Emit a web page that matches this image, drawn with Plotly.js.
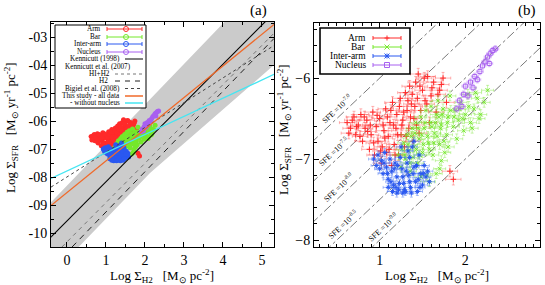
<!DOCTYPE html>
<html><head><meta charset="utf-8">
<script src="https://cdn.plot.ly/plotly-3.0.1.min.js"></script>
<style>html,body{margin:0;padding:0;background:#fff}#chart{width:545px;height:285px}</style>
</head><body><div id="chart"></div>
<script>
// ---------------- data ----------------
const categories = ['Arm', 'Bar', 'Inter-arm', 'Nucleus'];

const armX = [0.62,0.66,0.70,0.72,0.75,0.78,0.80,0.83,0.85,0.88,0.90,0.92,0.94,0.96,0.98,1.00,1.02,1.03,1.05,1.07,1.08,1.10,1.12,1.14,1.15,1.17,1.19,1.20,1.22,1.24,1.25,1.27,1.29,1.30,1.32,1.34,1.35,1.37,1.39,1.40,1.42,1.44,1.46,1.48,1.50,1.52,1.55,1.58,1.60,1.63,1.66,1.70,1.74,1.78,1.82,1.86,1.45,1.56,
  0.64,0.68,0.73,0.77,0.82,0.86,0.89,0.93,0.97,1.01,1.04,1.06,1.09,1.11,1.13,1.16,1.18,1.21,1.23,1.26,1.28,1.31,1.33,1.36,1.38,1.41,1.43,1.47,1.53,1.61,1.68,1.72];
const armY = [-6.55,-6.62,-6.48,-6.70,-6.58,-6.45,-6.78,-6.62,-6.52,-6.88,-6.70,-6.42,-6.95,-6.60,-6.78,-6.50,-7.05,-6.85,-6.65,-6.38,-6.92,-6.72,-6.55,-7.08,-6.30,-6.82,-6.62,-6.45,-6.95,-6.25,-6.70,-6.52,-6.85,-6.18,-6.40,-6.62,-6.10,-6.32,-6.78,-6.50,-6.05,-6.25,-6.68,-6.40,-6.15,-6.00,-6.32,-6.55,-6.22,-6.05,-6.42,-6.15,-6.00,-6.30,-7.15,-7.25,-5.95,-5.98,
  -6.68,-6.52,-6.60,-6.72,-6.48,-6.66,-6.58,-6.80,-6.46,-6.90,-6.58,-6.74,-6.48,-6.88,-6.40,-6.58,-6.95,-6.70,-6.35,-6.58,-6.42,-6.72,-6.28,-6.48,-6.20,-6.35,-6.58,-6.10,-6.28,-6.12,-6.20,-6.08];

const barX = [1.22,1.25,1.28,1.30,1.32,1.34,1.36,1.38,1.40,1.42,1.44,1.46,1.48,1.50,1.52,1.54,1.55,1.57,1.59,1.60,1.62,1.64,1.66,1.68,1.70,1.72,1.74,1.70,1.78,1.80,1.82,1.76,1.86,1.88,1.90,1.92,1.95,1.98,2.00,2.03,2.06,2.10,2.14,2.18,2.22,2.26,1.58,1.66,1.48,1.72,1.80,2.08,2.16,
  1.26,1.29,1.33,1.35,1.37,1.39,1.41,1.43,1.45,1.47,1.49,1.51,1.53,1.56,1.58,1.61,1.63,1.65,1.67,1.69,1.71,1.73,1.75,1.79,1.83,1.87,1.93,1.97,2.04,2.12];
const barY = [-6.95,-7.10,-6.80,-7.00,-6.70,-6.90,-7.15,-6.62,-6.85,-6.55,-7.05,-6.75,-6.48,-6.92,-6.62,-6.40,-7.20,-6.80,-6.55,-6.35,-6.95,-6.68,-6.45,-6.28,-6.82,-6.58,-6.38,-7.12,-6.70,-6.48,-6.22,-6.92,-6.60,-6.40,-6.75,-6.52,-6.30,-6.65,-6.45,-6.20,-6.55,-6.38,-6.25,-6.45,-6.30,-6.15,-7.28,-7.18,-7.22,-7.02,-6.85,-6.62,-6.50,
  -6.88,-6.95,-6.82,-7.05,-6.72,-6.98,-6.68,-6.88,-6.62,-6.95,-6.70,-6.82,-6.55,-6.72,-6.88,-6.60,-6.80,-6.55,-6.72,-6.48,-6.62,-6.45,-6.78,-6.55,-6.40,-6.48,-6.38,-6.50,-6.35,-6.18];

const interX = [0.93,0.96,0.98,1.00,1.02,1.04,1.06,1.08,1.10,1.12,1.14,1.16,1.18,1.20,1.22,1.24,1.26,1.28,1.30,1.32,1.34,1.36,1.38,1.40,1.42,1.44,1.46,1.48,1.50,1.52,1.54,1.56,1.58,1.40,1.33,1.25,1.20,1.10,
  1.05,1.09,1.13,1.17,1.19,1.21,1.23,1.27,1.29,1.31,1.35,1.37,1.39,1.43,1.45,1.47,1.51,1.15,1.27,1.35];
const interY = [-7.00,-7.08,-6.95,-7.12,-7.02,-7.18,-6.92,-7.10,-7.25,-7.00,-7.15,-7.32,-7.05,-7.22,-7.38,-6.98,-7.12,-7.30,-7.40,-7.05,-7.20,-7.35,-6.85,-7.10,-7.28,-7.40,-6.95,-7.18,-7.32,-7.08,-7.22,-7.15,-7.28,-6.78,-6.90,-6.85,-7.42,-7.35,
  -7.05,-7.18,-7.28,-7.12,-7.35,-7.08,-7.30,-7.22,-7.38,-7.15,-7.28,-7.42,-7.18,-7.08,-7.25,-7.35,-7.18,-7.40,-7.42,-6.98];

const nucX = [1.90,1.93,1.96,1.98,2.00,2.03,2.06,2.09,2.11,2.14,2.17,2.20,2.23,2.26,2.29,2.32,2.35,2.28];
const nucY = [-6.38,-6.28,-6.35,-6.20,-6.10,-6.22,-6.05,-6.12,-5.98,-6.02,-5.92,-5.85,-5.80,-5.74,-5.70,-5.66,-5.64,-5.82];

// typical uncertainties (dex) per category, [x, y]
const armErr = [0.09, 0.07];
const barErr = [0.07, 0.06];
const interErr = [0.06, 0.05];
const nucErr = [0.04, 0.04];

// relations in panel (a): endpoints [x], [y]
const k98X = [-0.45, 5.2],   k98Y = [-10.2, -2.29];
const k07hiX = [-0.13, 5.31], k07hiY = [-10.5, -2.86];
const k07h2X = [0.13, 5.31],  k07h2Y = [-10.5, -3.05];
const bigX = [-0.41, 5.31],   bigY = [-8.36, -3.3];
const allX = [-0.41, 5.31],   allY = [-9.02, -2.55];
const noNucX = [-0.41, 5.31], noNucY = [-8.05, -4.33];
const bandX = [-0.41, 1.6, 4.03, 4.7, 5.31, 5.31, 2.13, 0.3, -0.41];
const bandY = [-8.9, -6.0, -2.46, -1.5, -1.5, -4.0, -7.86, -10.5, -10.5];

// SFE lines in panel (b), log SFE [yr^-1]
const sfeLevels = [-7.0, -7.5, -8.0, -8.5, -9.0];
const sfeLabels = ['-7.0', '-7.5', '-8.0', '-8.5', '-9.0'];
const sfeLabelX = [0.49, 0.465, 0.52, 0.57, 1.035];
const sfeXSpan = [0.2, 2.9];

// tick labels
const aYTicks = [-3,-4,-5,-6,-7,-8,-9,-10];
const aYText = ['-03','-04','-05','-06','-07','-08','-09','-10'];
const aXTicks = [0,1,2,3,4,5];
const bXTicks = [1,2];
const bYTicks = [-6,-7,-8];

// ---------------- styles ----------------
const SERIF = 'Liberation Serif, Times New Roman, serif';
const RED = '#ff2a2a', GREEN = '#74e82a', BLUE = '#2a58f0', PURPLE = '#a860f0';
const ORANGE = '#f06a2a', CYAN = '#46e6f2';
const W = 545, H = 285;
const px = x => x / W, py = y => 1 - y / H;

const sets = [
  {name: categories[0], x: armX, y: armY, err: armErr, color: RED, bsym: 'cross-thin-open', rgba: 'rgba(255,70,70,0.5)'},
  {name: categories[1], x: barX, y: barY, err: barErr, color: GREEN, bsym: 'x-thin-open', rgba: 'rgba(120,230,50,0.5)'},
  {name: categories[2], x: interX, y: interY, err: interErr, color: BLUE, bsym: 'asterisk-open', rgba: 'rgba(50,100,240,0.5)'},
  {name: categories[3], x: nucX, y: nucY, err: nucErr, color: PURPLE, bsym: 'square-open', rgba: 'rgba(170,100,240,0.5)'}
];

const traces = [];
traces.push({x: bandX, y: bandY, xaxis: 'x', yaxis: 'y', mode: 'lines', fill: 'toself',
  fillcolor: '#cbcbcb', line: {width: 0, color: '#cbcbcb'}, hoverinfo: 'skip', showlegend: false});
sets.forEach(s => traces.push({
  x: s.x, y: s.y, xaxis: 'x', yaxis: 'y', mode: 'markers', showlegend: false,
  marker: {symbol: 'circle', size: 5, color: s.color, line: {width: 0}},
  error_x: {type: 'constant', value: s.err[0] * 0.7, color: s.color, thickness: 0.6, width: 0},
  error_y: {type: 'constant', value: s.err[1] * 0.7, color: s.color, thickness: 0.6, width: 0}
}));
const rel = [
  [k98X, k98Y, '#000', 1.1, 'solid'],
  [k07hiX, k07hiY, '#777', 1, '4px,4px'],
  [k07h2X, k07h2Y, '#222', 1, '6px,5px'],
  [bigX, bigY, '#444', 1, 'dot'],
  [allX, allY, ORANGE, 1.3, 'solid'],
  [noNucX, noNucY, CYAN, 1.3, 'solid']
];
rel.forEach(r => traces.push({x: r[0], y: r[1], xaxis: 'x', yaxis: 'y', mode: 'lines',
  line: {color: r[2], width: r[3], dash: r[4]}, showlegend: false, hoverinfo: 'skip'}));

sfeLevels.forEach(s => traces.push({x: sfeXSpan, y: sfeXSpan.map(v => v + s), xaxis: 'x2', yaxis: 'y2',
  mode: 'lines', line: {color: '#555', width: 0.8, dash: 'dashdot'}, showlegend: false, hoverinfo: 'skip'}));
sets.forEach(s => traces.push({
  x: s.x, y: s.y, xaxis: 'x2', yaxis: 'y2', mode: 'markers', showlegend: false,
  marker: {symbol: s.bsym, size: 4, color: s.color, line: {width: 1, color: s.color}},
  error_x: {type: 'constant', value: s.err[0], color: s.rgba, thickness: 0.8, width: 1.5},
  error_y: {type: 'constant', value: s.err[1], color: s.rgba, thickness: 0.8, width: 1.5}
}));

// ---------------- annotations & shapes ----------------
const ann = [];
const shapes = [];
function txt(text, x, y, size, xa, extra) {
  ann.push(Object.assign({text: text, x: px(x), y: py(y), xref: 'paper', yref: 'paper', showarrow: false,
    xanchor: xa || 'center', yanchor: 'middle', font: {family: SERIF, size: size, color: '#000'}}, extra || {}));
}
function seg(x0, y0, x1, y1, color, width, dash) {
  shapes.push({type: 'line', xref: 'paper', yref: 'paper', x0: px(x0), y0: py(y0), x1: px(x1), y1: py(y1),
    line: {color: color, width: width, dash: dash || 'solid'}});
}
function sym(kind, cx, cy, r, color) {
  if (kind === 'circle') {
    shapes.push({type: 'circle', xref: 'paper', yref: 'paper', x0: px(cx - r), x1: px(cx + r), y0: py(cy + r), y1: py(cy - r),
      line: {color: color, width: 1}, fillcolor: 'rgba(0,0,0,0)'});
  } else if (kind === 'square') {
    shapes.push({type: 'rect', xref: 'paper', yref: 'paper', x0: px(cx - r), x1: px(cx + r), y0: py(cy + r), y1: py(cy - r),
      line: {color: color, width: 1}});
  } else {
    if (kind === 'plus' || kind === 'ast') { seg(cx - r, cy, cx + r, cy, color, 1); seg(cx, cy - r, cx, cy + r, color, 1); }
    if (kind === 'x' || kind === 'ast') { seg(cx - r, cy - r, cx + r, cy + r, color, 1); seg(cx - r, cy + r, cx + r, cy - r, color, 1); }
  }
}

const NB = '\u00a0';
const ytitle = 'Log Σ<sub>SFR</sub>' + NB + NB + NB + '[M<sub>⊙</sub> yr<sup>-1</sup> pc<sup>-2</sup>]';
const xtitle = 'Log Σ<sub>H2</sub>' + NB + NB + NB + '[M<sub>⊙</sub> pc<sup>-2</sup>]';
txt(ytitle, 11, 128, 13, 'center', {textangle: -90});
txt(xtitle, 162, 276, 13);
txt(ytitle, 284, 130, 13, 'center', {textangle: -90});
txt(xtitle, 437, 276, 13);
txt('(a)', 258, 10, 15);
txt('(b)', 527, 10, 15);

// legend (a)
shapes.push({type: 'rect', xref: 'paper', yref: 'paper', x0: px(55), x1: px(146), y0: py(25), y1: py(108),
  line: {color: '#000', width: 1}, fillcolor: '#fff'});
const legA = [
  ['Arm', 103, 29, 'pt', RED],
  ['Bar', 103, 37, 'pt', GREEN],
  ['Inter-arm', 103, 44, 'pt', BLUE],
  ['Nucleus', 103, 52, 'pt', PURPLE],
  ['Kennicutt (1998)', 122, 59, 'solid', '#000'],
  ['Kennicutt et al. (2007)', 133, 66.5, null, null],
  ['HI+H2', 112, 74, '3px,3px', '#777'],
  ['H2', 110, 81, '5px,5px', '#222'],
  ['Bigiel et al. (2008)', 122, 88.5, 'dot', '#444'],
  ['This study - all data', 122, 96, 'solid', ORANGE],
  ['- without nucleus', 122, 103, 'solid', CYAN]
];
legA.forEach(e => {
  txt(e[0], e[1], e[2], 7.2, 'right');
  if (e[3] === 'pt') {
    seg(107, e[2], 142, e[2], e[4], 1);
    seg(107, e[2] - 2, 107, e[2] + 2, e[4], 1);
    seg(142, e[2] - 2, 142, e[2] + 2, e[4], 1);
    sym('circle', 126, e[2], 2.5, e[4]);
  } else if (e[3]) {
    const x0 = (e[3] === 'solid' || e[3] === 'dot') ? 125 : 115;
    seg(x0, e[2], 143, e[2], e[4], e[4] === ORANGE || e[4] === CYAN ? 1.5 : 1, e[3]);
  }
});

// legend (b)
shapes.push({type: 'rect', xref: 'paper', yref: 'paper', x0: px(320), x1: px(410), y0: py(28), y1: py(74),
  line: {color: '#000', width: 1.6}, fillcolor: '#fff'});
const legB = [['plus', 38], ['x', 47], ['ast', 56], ['square', 65]];
sets.forEach((s, i) => {
  const y = legB[i][1];
  txt(s.name, 368, y, 9.5, 'right');
  seg(373, y, 401, y, s.color, 1);
  seg(373, y - 2, 373, y + 2, s.color, 1);
  seg(401, y - 2, 401, y + 2, s.color, 1);
  sym(legB[i][0], 387, y, 2.5, s.color);
});

sfeLevels.forEach((s, i) => {
  ann.push({text: 'SFE =10<sup>' + sfeLabels[i] + '</sup>', x: sfeLabelX[i], y: sfeLabelX[i] + s + 0.13,
    xref: 'x2', yref: 'y2', showarrow: false, textangle: -43, xanchor: 'center', yanchor: 'middle',
    font: {family: SERIF, size: 8, color: '#000'}});
});

// ---------------- layout ----------------
const axBase = {showline: true, linecolor: '#000', linewidth: 1, mirror: 'allticks', ticks: 'inside',
  ticklen: 5, tickcolor: '#000', showgrid: false, zeroline: false,
  tickfont: {family: SERIF, size: 14, color: '#000'}};
const layout = {
  width: W, height: H, margin: {l: 0, r: 0, t: 0, b: 0}, paper_bgcolor: '#fff', plot_bgcolor: '#fff',
  showlegend: false,
  xaxis: Object.assign({}, axBase, {domain: [51 / W, 274 / W], range: [-0.41, 5.31], tickvals: aXTicks, anchor: 'y',
    minor: {dtick: 0.5, ticks: 'inside', ticklen: 3, tickcolor: '#000'}}),
  yaxis: Object.assign({}, axBase, {domain: [38 / H, 263 / H], range: [-10.5, -2.46], tickvals: aYTicks, ticktext: aYText,
    anchor: 'x', minor: {dtick: 0.5, ticks: 'inside', ticklen: 3, tickcolor: '#000'}}),
  xaxis2: Object.assign({}, axBase, {domain: [314 / W, 540 / W], range: [0.233, 2.872], tickvals: bXTicks, anchor: 'y2',
    minor: {dtick: 0.1, ticks: 'inside', ticklen: 3, tickcolor: '#000'}}),
  yaxis2: Object.assign({}, axBase, {domain: [38 / H, 262 / H], range: [-8.086, -5.32], tickvals: bYTicks, anchor: 'x2',
    minor: {dtick: 0.2, ticks: 'inside', ticklen: 3, tickcolor: '#000'}}),
  annotations: ann,
  shapes: shapes
};

Plotly.newPlot('chart', traces, layout, {staticPlot: true, displayModeBar: false});
</script>
</body></html>
